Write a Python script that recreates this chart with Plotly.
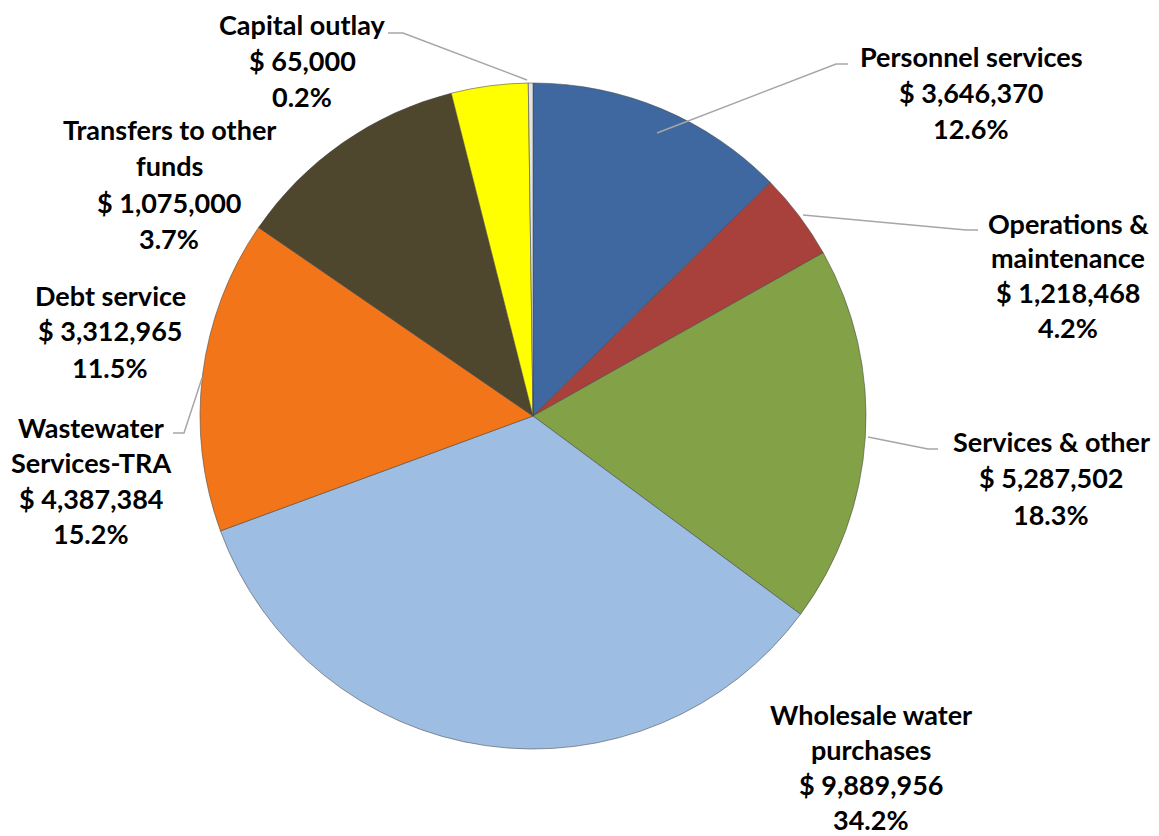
import plotly.graph_objects as go

W, H = 1159, 836

# Expense categories, amounts and slice colours
categories = [
    "Personnel services",
    "Operations & maintenance",
    "Services & other",
    "Wholesale water purchases",
    "Wastewater Services-TRA",
    "Debt service",
    "Transfers to other funds",
    "Capital outlay",
]
amounts = [3646370, 1218468, 5287502, 9889956, 4387384, 3312965, 1075000, 65000]
colors = ["#3E689F", "#A8403C", "#83A146", "#9EBDE3", "#F27619",
          "#4E472E", "#FFFF00", "#E4E4E4"]

# Label text lines for each category
label_lines = [
    ["Personnel services"],
    ["Operations &", "maintenance"],
    ["Services & other"],
    ["Wholesale water", "purchases"],
    ["Wastewater", "Services-TRA"],
    ["Debt service"],
    ["Transfers to other", "funds"],
    ["Capital outlay"],
]

# Label block placement (pixel centre x, first-line y, line step)
label_pos = [
    (971, 56, 36.0), (1068, 223, 34.8), (1051, 441, 36.5), (871, 714, 35.0),
    (91, 427, 35.5), (110, 295, 36.0), (169, 130, 36.0), (302, 24, 36.5),
]

# Leader lines (pixel polylines from label to pie edge)
leaders = [
    [(848, 64), (836, 64), (657, 133)],
    [(978, 230), (966, 230), (803, 215)],
    [(938, 449), (928, 449), (868, 437)],
    [(173, 433), (184, 433), (202, 378)],
    [(388, 33), (403, 33), (527, 80)],
]

# Pie geometry in pixels
cx, cy, r = 533, 416, 333

total = sum(amounts)

fig = go.Figure(
    go.Pie(
        labels=categories,
        values=amounts,
        sort=False,
        direction="clockwise",
        rotation=0,
        marker=dict(colors=colors, line=dict(color="rgba(70,70,70,0.55)", width=1)),
        textinfo="none",
        hoverinfo="label+value+percent",
        showlegend=False,
        domain=dict(
            x=[(cx - r) / W, (cx + r) / W],
            y=[1 - (cy + r) / H, 1 - (cy - r) / H],
        ),
    )
)

annotations = []
font = dict(family="Lato", size=27, color="#000000", weight="bold")
for lines, amt, (lx, ly, step) in zip(label_lines, amounts, label_pos):
    pct = 100.0 * amt / total
    all_lines = lines + [f"$ {amt:,}", f"{pct:.1f}%"]
    for i, txt in enumerate(all_lines):
        y = ly + i * step
        annotations.append(dict(
            x=lx / W, y=1 - y / H, xref="paper", yref="paper",
            text=txt, showarrow=False, xanchor="center", yanchor="middle",
            font=font,
        ))

shapes = []
for pts in leaders:
    path = "M " + " L ".join(f"{x / W:.5f},{1 - y / H:.5f}" for x, y in pts)
    shapes.append(dict(type="path", path=path, xref="paper", yref="paper",
                       line=dict(color="#A6A6A6", width=1.5)))

fig.update_layout(
    width=W, height=H,
    margin=dict(l=0, r=0, t=0, b=0),
    paper_bgcolor="white",
    plot_bgcolor="white",
    annotations=annotations,
    shapes=shapes,
)

fig.write_html("out.html")
